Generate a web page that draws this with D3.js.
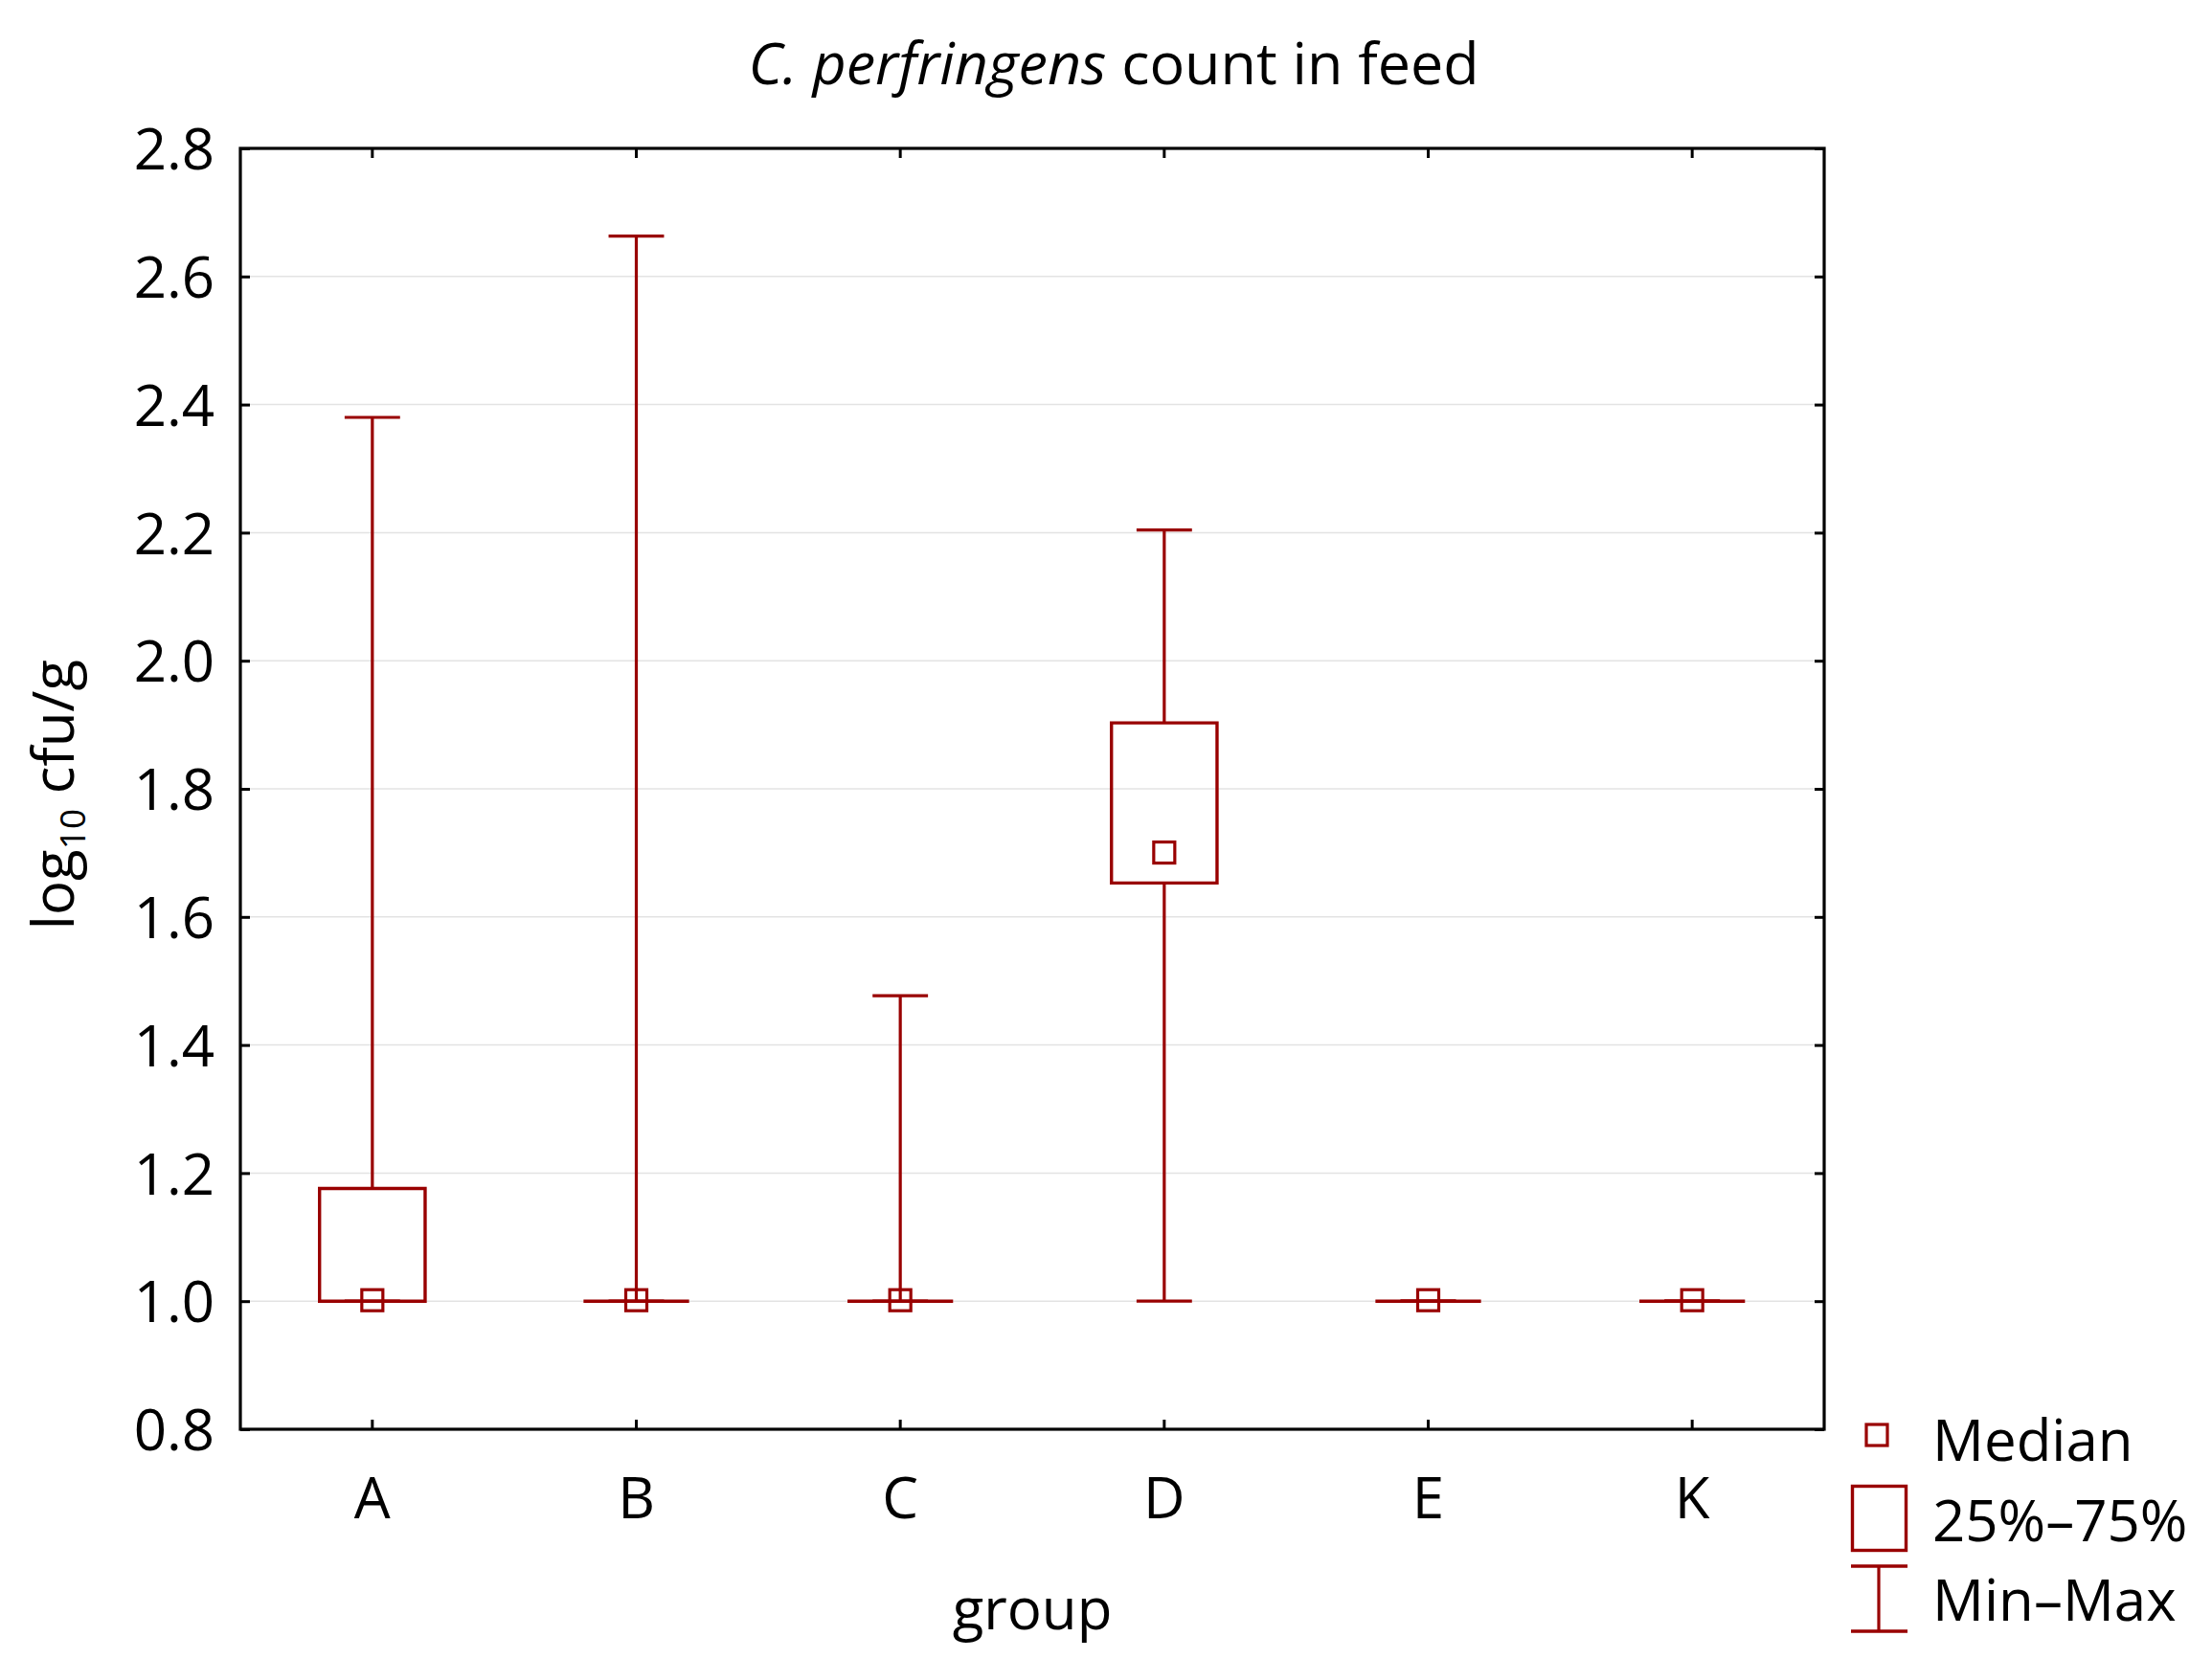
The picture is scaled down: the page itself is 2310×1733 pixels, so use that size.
<!DOCTYPE html>
<html>
<head>
<meta charset="utf-8">
<script src="https://cdn.jsdelivr.net/npm/d3@7"></script>
<style>
  html, body { margin: 0; padding: 0; background: #fff; }
  text { font-family: "Open Sans", "Noto Sans", sans-serif; fill: #000; }
</style>
</head>
<body>
<svg id="chart" width="2310" height="1733"></svg>
<script>
// ---- data ----
const groups = ["A", "B", "C", "D", "E", "K"];
const minVals    = [1.0, 1.0, 1.0, 1.0, 1.0, 1.0];
const q1Vals     = [1.0, 1.0, 1.0, 1.653, 1.0, 1.0];
const medianVals = [1.0, 1.0, 1.0, 1.699, 1.0, 1.0];
const q3Vals     = [1.176, 1.0, 1.0, 1.903, 1.0, 1.0];
const maxVals    = [2.380, 2.663, 1.477, 2.204, 1.0, 1.0];
const yTicks = [0.8, 1.0, 1.2, 1.4, 1.6, 1.8, 2.0, 2.2, 2.4, 2.6, 2.8];
const legendLabels = ["Median", "25%\u201375%", "Min\u2013Max"];

// ---- layout ----
const svg = d3.select("#chart");
const W = 2310, H = 1733;
const plot = { left: 251, right: 1905, top: 155, bottom: 1493 };
const red = "#990000";
const fontSize = 60;

svg.append("rect").attr("width", W).attr("height", H).attr("fill", "#fff");

const x = d3.scaleBand().domain(groups).range([plot.left, plot.right]).padding(0);
const y = d3.scaleLinear().domain([0.8, 2.8]).range([plot.bottom, plot.top]);

const rows = groups.map((g, i) => ({
  g, min: minVals[i], q1: q1Vals[i], med: medianVals[i], q3: q3Vals[i], max: maxVals[i]
}));

// gridlines
svg.append("g").selectAll("line").data(yTicks.filter(t => t > 0.8 && t < 2.8)).join("line")
  .attr("x1", plot.left).attr("x2", plot.right)
  .attr("y1", d => y(d)).attr("y2", d => y(d))
  .attr("stroke", "#e3e3e3").attr("stroke-width", 1.5);

// axes (ticks inside)
const fmt = d3.format(".1f");
const yAxisL = svg.append("g").attr("transform", `translate(${plot.left},0)`)
  .call(d3.axisLeft(y).tickValues(yTicks).tickFormat(fmt).tickSizeInner(-10).tickSizeOuter(0).tickPadding(27));
const yAxisR = svg.append("g").attr("transform", `translate(${plot.right},0)`)
  .call(d3.axisRight(y).tickValues(yTicks).tickFormat("").tickSizeInner(-10).tickSizeOuter(0));
const xAxisB = svg.append("g").attr("transform", `translate(0,${plot.bottom})`)
  .call(d3.axisBottom(x).tickSizeInner(-10).tickSizeOuter(0).tickPadding(50));
const xAxisT = svg.append("g").attr("transform", `translate(0,${plot.top})`)
  .call(d3.axisTop(x).tickFormat("").tickSizeInner(-10).tickSizeOuter(0));

[yAxisL, yAxisR, xAxisB, xAxisT].forEach(a => {
  a.select(".domain").remove();
  a.selectAll(".tick line").attr("stroke", "#000").attr("stroke-width", 3);
  a.selectAll(".tick text").attr("font-size", fontSize)
    .attr("font-family", '"Open Sans", "Noto Sans", sans-serif').attr("fill", "#000");
});
yAxisL.selectAll(".tick text").attr("dy", "0.36em");
xAxisB.selectAll(".tick text").attr("dy", "0.72em");

// frame
svg.append("rect")
  .attr("x", plot.left).attr("y", plot.top)
  .attr("width", plot.right - plot.left).attr("height", plot.bottom - plot.top)
  .attr("fill", "none").attr("stroke", "#000").attr("stroke-width", 3.2);

// boxes
const bw = x.bandwidth();
const boxW = bw * 0.4;
const capW = bw * 0.21;
const medS = 22;
const cx = d => x(d.g) + bw / 2;

const gBox = svg.append("g");
// whiskers
gBox.selectAll("line.wu").data(rows).join("line").attr("class", "wu")
  .attr("x1", cx).attr("x2", cx).attr("y1", d => y(d.q3)).attr("y2", d => y(d.max))
  .attr("stroke", red).attr("stroke-width", 3.2);
gBox.selectAll("line.wl").data(rows).join("line").attr("class", "wl")
  .attr("x1", cx).attr("x2", cx).attr("y1", d => y(d.q1)).attr("y2", d => y(d.min))
  .attr("stroke", red).attr("stroke-width", 3.2);
// caps
gBox.selectAll("line.cmax").data(rows).join("line").attr("class", "cmax")
  .attr("x1", d => cx(d) - capW / 2).attr("x2", d => cx(d) + capW / 2)
  .attr("y1", d => y(d.max)).attr("y2", d => y(d.max))
  .attr("stroke", red).attr("stroke-width", 3.2);
gBox.selectAll("line.cmin").data(rows).join("line").attr("class", "cmin")
  .attr("x1", d => cx(d) - capW / 2).attr("x2", d => cx(d) + capW / 2)
  .attr("y1", d => y(d.min)).attr("y2", d => y(d.min))
  .attr("stroke", red).attr("stroke-width", 3.2);
// box (path so a collapsed box still draws as a line)
gBox.selectAll("path.box").data(rows).join("path").attr("class", "box")
  .attr("d", d => {
    const x0 = cx(d) - boxW / 2, x1 = cx(d) + boxW / 2;
    return `M${x0},${y(d.q3)}H${x1}V${y(d.q1)}H${x0}Z`;
  })
  .attr("fill", "none").attr("stroke", red).attr("stroke-width", 3.4)
  .attr("stroke-linecap", "square");
// median
gBox.selectAll("rect.med").data(rows).join("rect").attr("class", "med")
  .attr("x", d => cx(d) - medS / 2).attr("y", d => y(d.med) - medS / 2 - 1)
  .attr("width", medS).attr("height", medS)
  .attr("fill", "none").attr("stroke", red).attr("stroke-width", 3.2);

// title
const title = svg.append("text").attr("x", 1163).attr("y", 88)
  .attr("text-anchor", "middle").attr("font-size", 61);
title.append("tspan").attr("font-style", "italic").text("C. perfringens");
title.append("tspan").text(" count in feed");

// x axis label
svg.append("text").attr("x", (plot.left + plot.right) / 2).attr("y", 1702)
  .attr("text-anchor", "middle").attr("font-size", fontSize).text("group");

// y axis label
const yl = svg.append("text")
  .attr("transform", `translate(77,${(plot.top + plot.bottom) / 2 + 6}) rotate(-90)`)
  .attr("text-anchor", "middle").attr("font-size", fontSize);
yl.append("tspan").text("log");
yl.append("tspan").attr("font-size", fontSize * 0.62).attr("dy", 12).text("10");
yl.append("tspan").attr("dy", -12).text(" cfu/g");

// legend
const lg = svg.append("g");
lg.append("rect").attr("x", 1949).attr("y", 1488).attr("width", 22).attr("height", 22)
  .attr("fill", "none").attr("stroke", red).attr("stroke-width", 3.2);
lg.append("rect").attr("x", 1934.5).attr("y", 1552.5).attr("width", 56).attr("height", 67)
  .attr("fill", "none").attr("stroke", red).attr("stroke-width", 3.4);
lg.append("line").attr("x1", 1933).attr("x2", 1992).attr("y1", 1636).attr("y2", 1636)
  .attr("stroke", red).attr("stroke-width", 3.4);
lg.append("line").attr("x1", 1933).attr("x2", 1992).attr("y1", 1704).attr("y2", 1704)
  .attr("stroke", red).attr("stroke-width", 3.4);
lg.append("line").attr("x1", 1962).attr("x2", 1962).attr("y1", 1636).attr("y2", 1704)
  .attr("stroke", red).attr("stroke-width", 3.2);
const legY = [1526, 1610, 1693];
lg.selectAll("text").data(legendLabels).join("text")
  .attr("x", 2018).attr("y", (d, i) => legY[i]).attr("font-size", fontSize).text(d => d);
</script>
</body>
</html>
